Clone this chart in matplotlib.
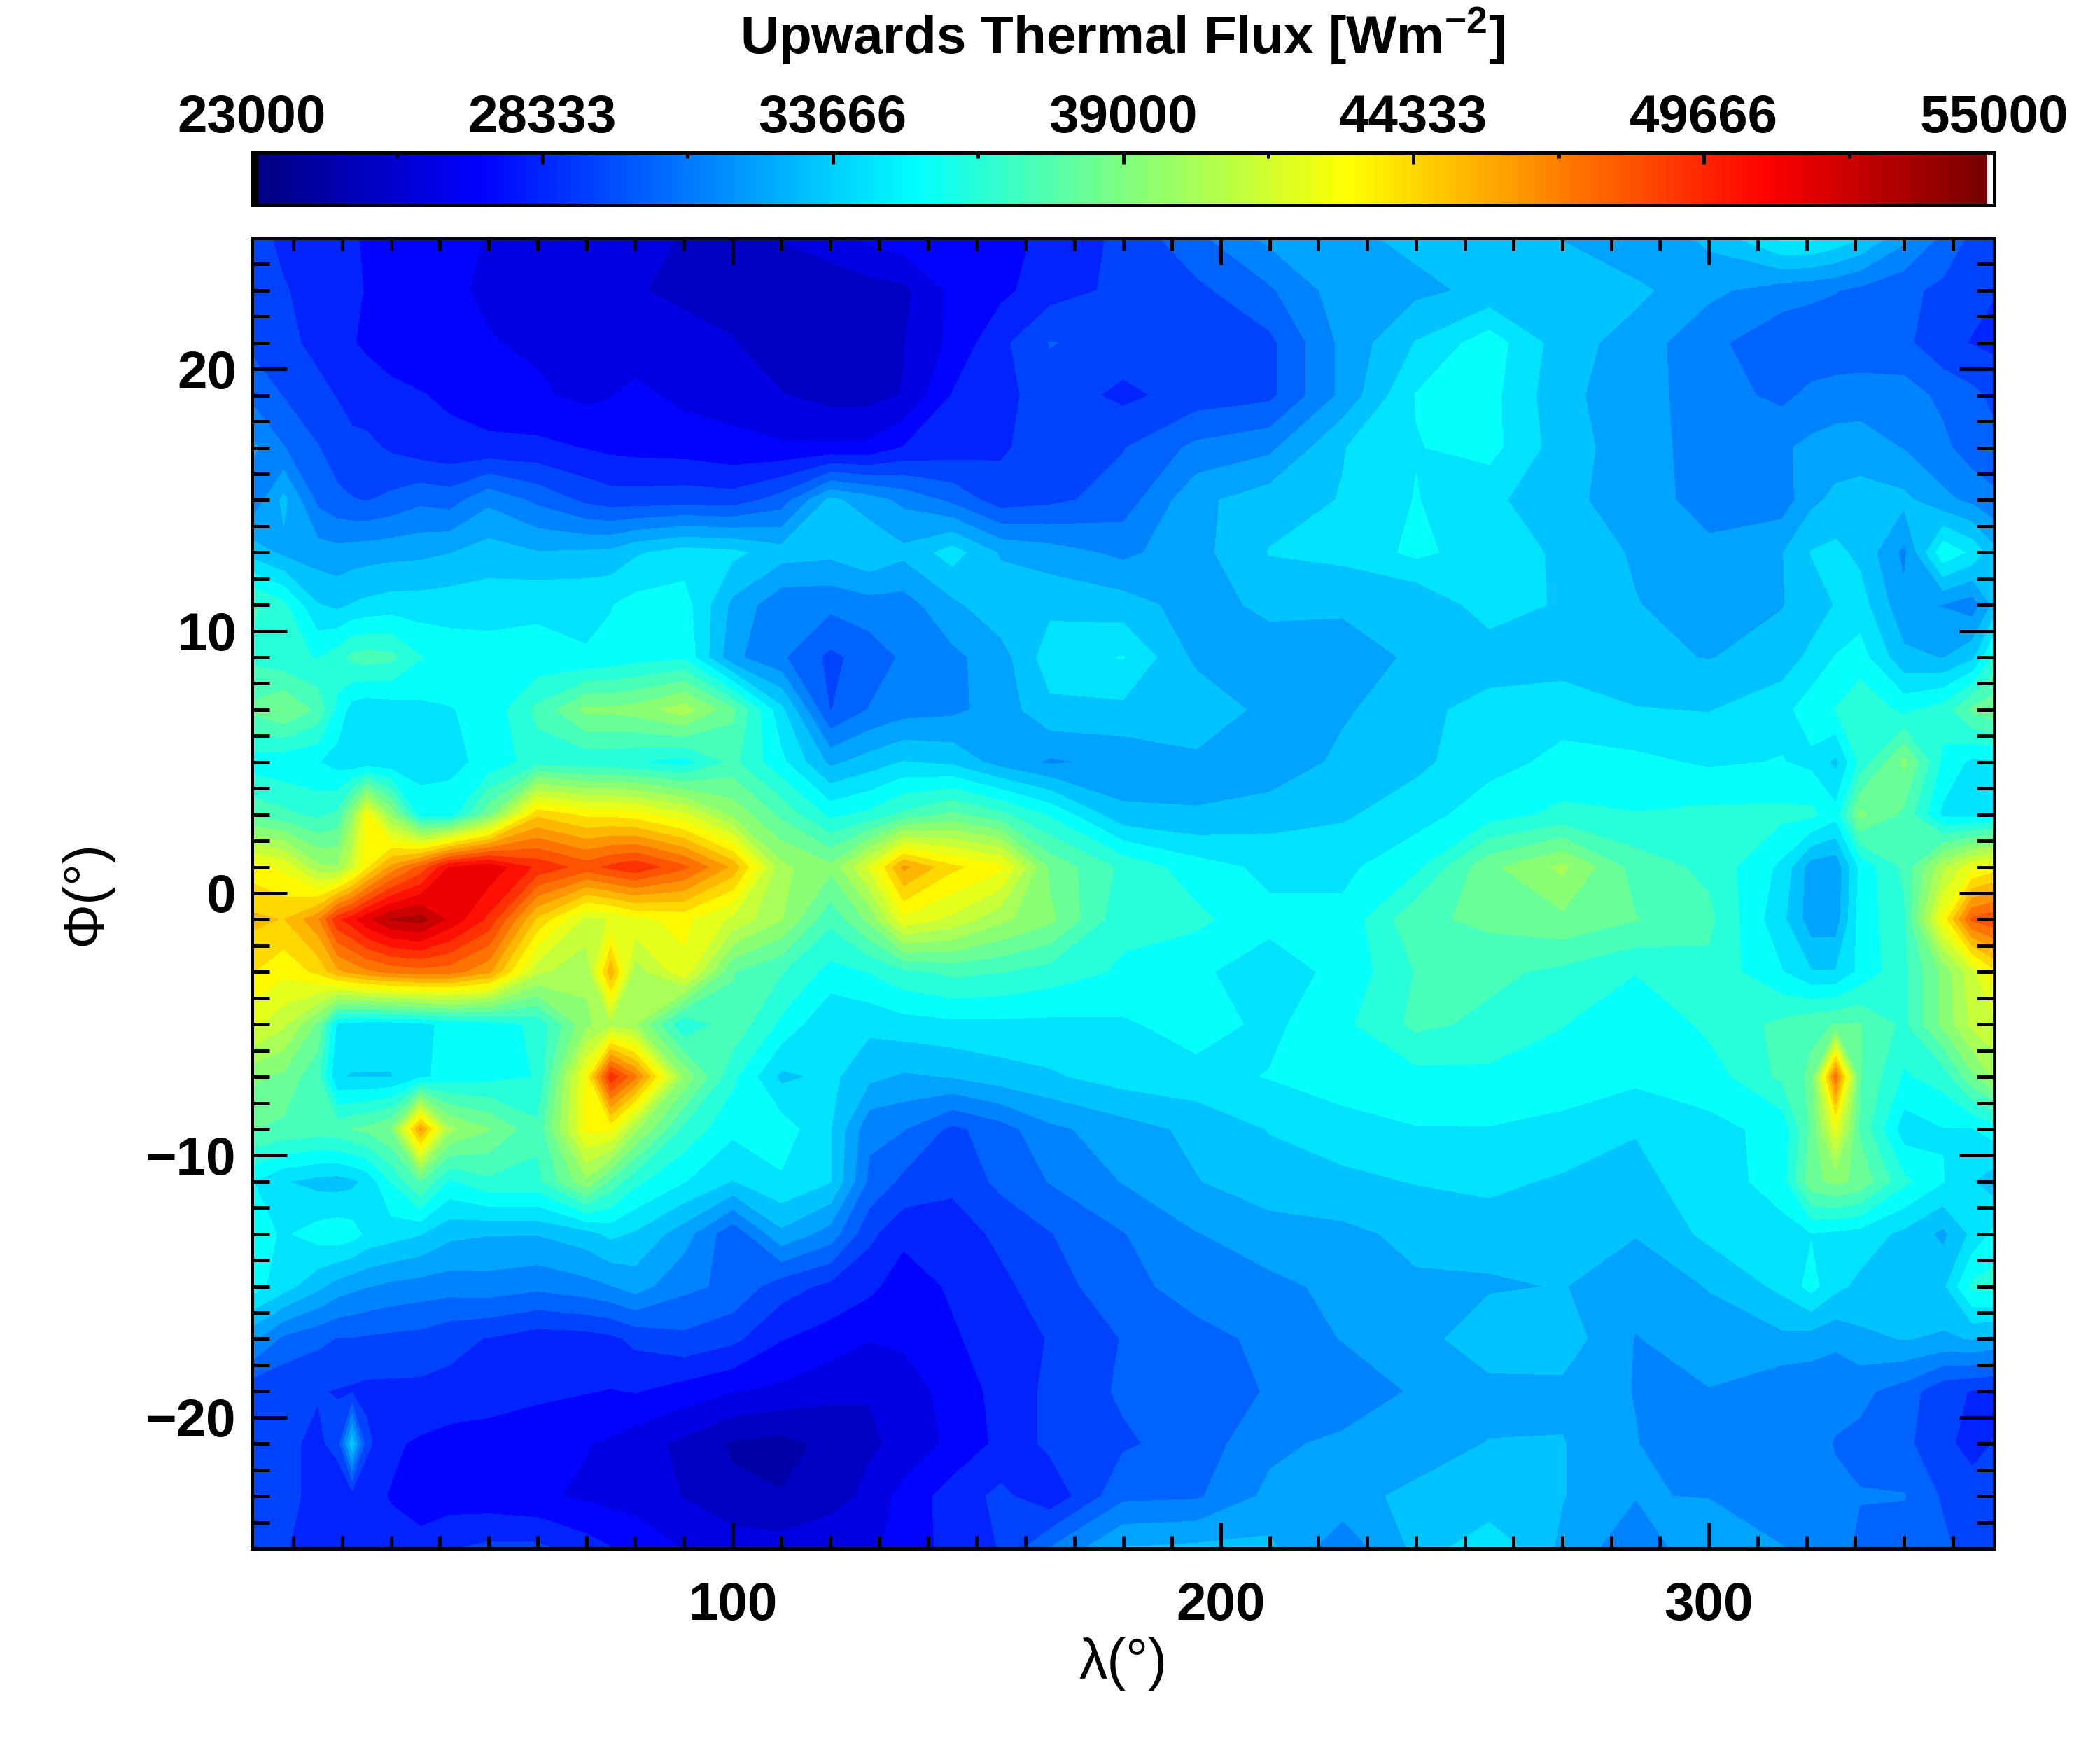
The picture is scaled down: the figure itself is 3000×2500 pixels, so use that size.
import numpy as np
import matplotlib
matplotlib.use('Agg')
import matplotlib.pyplot as plt
from matplotlib.colors import LinearSegmentedColormap, ListedColormap
from matplotlib.ticker import MultipleLocator

plt.rcParams['font.family'] = ['Liberation Sans', 'DejaVu Sans']
plt.rcParams['font.weight'] = 'bold'
plt.rcParams['mathtext.fontset'] = 'custom'
plt.rcParams['mathtext.rm'] = 'Liberation Sans:bold'
plt.rcParams['mathtext.bf'] = 'Liberation Sans:bold'

# Grid, flux in 1000 W/m2
lon = [1.5, 8, 15, 19, 22, 25, 30, 36, 42, 50,
       60, 70, 75, 80, 90, 100, 110, 120, 128, 135,
       145, 155, 165, 180, 195, 210, 225, 240, 255, 270,
       285, 300, 315, 321, 326, 331, 340, 348, 354, 358.5]
lat = [25, 23, 21, 19, 17, 15, 13, 11, 9, 7, 5, 3, 1,
       -1, -3, -5, -7, -9, -11, -13, -15, -17, -19, -21, -23, -25]
flux = [
    [29,28.6,28.3,28,27.8,27.7,27.5,27.3,27,26.7, 26.5,26.3,26.2,26,25.7,25.6,25.8,26.2,27,27.3, 27.2,27.4,28,29,30.5,32,32.5,33,33.2,32.7, 31.8,33,35,35,34.5,33.8,32,30.5,29.5,29],
    [29,28.8,28.5,28.1,27.9,27.7,27.4,27.2,26.9,26.6, 26.3,25.9,26,25.8,25.6,25.4,25.2,25.2,25.3,25.5, 27,27.5,28.3,29,29.5,30.6,32.3,32.5,33,33.5, 33,32,31.2,31,30.8,30.5,30,29.5,29,28.8],
    [29.5,29,28.5,28,27.8,27.6,27.3,27.2,27.1,26.8, 26.6,26.4,26.3,26.2,26,25.8,25.2,25.3,25.5,25.7, 27,28.5,29.8,29.3,29.5,29.5,32,33.8,35.3,33.2, 32.3,31,30.1,30,30,30,30,29,28.7,28.5],
    [30.5,29.7,29,28.7,28.4,28.2,28,27.8,27.6,27.2, 26.9,26.5,26.7,27,26.5,26.4,25.8,25.4,25.4,25.8, 27.8,28.4,29.3,28.5,29.2,29.5,32,34.8,35.1,33, 32.2,31.2,30.5,31,31.2,31.3,31.2,30.5,30,29.5],
    [32,30.8,29.8,29.2,29,29,28.6,28.2,28,28, 28,27.7,27.5,27.4,27.3,27,26.9,26.9,27,27.8, 28.2,28.6,29.3,29.7,31,31.5,33.7,34.7,35.1,33.2, 32.2,31.3,31.6,32,32.2,32.2,31.7,31,30.2,30],
    [31,33,30.5,30,29.8,29.7,30,30.5,30.3,31.5, 30.5,29.5,29.2,29.2,29.3,29.2,30.2,33,32.2,31.5, 30.5,29.2,29.5,30.2,32.5,33.3,33.8,34.8,34,33, 32.3,31.3,31.2,32.5,33,33.2,33,32,31.5,31],
    [33.3,32.5,32.2,32.1,32.2,32.3,32.4,32.5,32.7,33.2, 32.8,32.9,33,33.6,34.2,34,33.2,33,33.6,33, 34.2,32.6,32.2,31.5,32.4,33.8,34,35,34.2,33.6, 32.6,32,32.7,33.8,34,33.5,31.5,35.5,34.5,33],
    [37,36,33.8,33.5,33.8,34,34.2,34.2,34.3,34.3, 34.6,34.6,34.7,35.1,35.2,32.5,31,31,31.3,31.3, 32.5,33.5,33.5,33.2,32.3,33,33,32.8,34.3,33.6, 32.8,32.2,32.7,33.2,33.8,34.2,32,31.7,31.2,33],
    [36.5,36,35.7,36.3,37,37.2,37,35.8,35.3,35.2, 35,34.8,35,35.3,35.6,32,30.9,29.5,30.2,30.9, 31.5,32.3,34.3,34.8,32.5,32.2,32,33,33.1,33.2, 33,32.7,33.2,34,34.8,35.2,33,32.7,33.5,36],
    [38,38.8,37.5,35.5,34.3,34,34.2,34.5,34.7,35, 37,39,39,39.2,40.3,38,34,29.7,30.8,31.3, 31.5,32.2,33.5,33.5,33.5,32.4,32.6,33.4,34.2,34.4, 33.8,33.7,34.4,35.3,35.8,36.5,35.5,36.2,38,38.5],
    [35.2,35,34.8,34.3,34,34,34,34.3,34.5,35, 36.3,36,36,35.8,35.3,37,35,32.5,33.2,33.8, 33.5,32.3,31.6,32,32.5,32,33,33.5,34.4,35, 35,34.6,34.8,34.5,33.5,36,39,35.5,34.5,34.5],
    [37.5,37,36.5,37,39.5,43,39.5,35.3,35.2,38.5, 44.5,43.5,43.5,43.2,42,39.5,37.5,35.5,36,37, 38,37,35.6,33,32.8,33.3,33.6,34.3,35.3,36, 35.8,36,36,36,35.1,39,37.5,34.5,34.3,34.5],
    [43.2,42.5,40,39.8,41.5,43.5,46,48,50.8,51.5, 49.5,48.3,49,49.5,48,45.5,40,39,42,46, 44,43,38.5,36.5,35.2,34.5,34.5,35.5,38.5,40, 37.3,36.5,34.5,32.2,32,35,37,40.5,42.5,43.2],
    [45,44.7,46.5,49.5,50.3,51.5,52.8,53.2,51.5,49.5, 44.5,41.5,41.8,42.5,43,41.5,39.8,37,39,42.5, 41.5,40,39,36,36,35,35,37.5,38,38.5, 37.8,37,34,32.2,32.2,35.2,36.5,43,48,48.5],
    [43.8,43,44,45.5,46,46.5,47,47.3,47.2,46, 41,40,45.5,40.2,42.5,37.8,36.8,35.4,35.8,36.5, 37,36.8,36.3,35.6,34.9,34.3,35,36.8,37,36.5, 35.8,36.5,34.8,33.8,33.8,35,36.5,39,41.5,43.5],
    [42,41,38.5,34.5,34.3,34.2,34.2,34.5,35,35.2, 36,39.5,40.5,39.8,35.8,37.5,35.5,33.8,34,34.3, 34.5,34.5,34.5,34.6,35.2,34.5,35.5,37,36.5,35.8, 34.8,36,37,37.5,37.8,37.8,36.5,39,41,41.5],
    [39,38.5,37,33.8,33.7,33.7,33.7,34.5,35.2,35.4, 35.8,43,49.5,47,39.5,36,33.5,34,33,32.6, 32.8,33.3,33.6,34.2,34.4,34.8,35.3,35.4,35.5,35.2, 35,35.2,37,38,47.5,37.8,35.6,36.2,38.5,40],
    [37.8,37.5,37.3,37.4,37.8,38,38.8,46,40,38.8, 37,43,43,40,36.5,35,35.3,33.8,31,30.8, 29.5,30.3,31.5,32.3,33,33.8,34.3,34.7,34.7,34.5, 33.8,34.5,35,38,42.3,37.5,34.2,34.7,34.7,35.2],
    [34.8,33.8,33.4,33.3,33.5,34,35.8,37.8,35.6,36.5, 36.5,39.5,37.5,36,34.8,33.7,34.6,33.8,30.5,29.5, 29,30,30.8,31.8,32.7,33.3,33.5,33.8,34,33.6, 33.5,34.2,35.2,38.5,39,38.5,36,34.8,33.8,33.2],
    [35.3,34.6,35.2,35.4,35.2,34.5,34.2,33.8,33,32.8, 32.8,33.3,34,33.6,32.2,30,32.5,31.3,29,28, 28.2,29,29.7,30.7,31.7,32.3,32.5,33,33.2,33.2, 32.8,34,34.4,34.7,34.5,34.3,33.5,32.5,34,35],
    [35.2,34.2,33,32.3,32,31.8,31.5,31.3,31.2,31.3, 31,31.4,31.7,32.2,31,30.5,29.2,28.5,28,27.2, 27.9,28.5,29.3,30.4,31.2,31.5,32,32.6,32.6,32.8, 32.1,32.8,34,35.1,34,33.5,32.8,33.5,36,36.2],
    [32,30.5,30,29.7,29.7,29.6,29.5,29.4,29,28.7, 28.2,28.3,28.5,29,29.5,29,27.8,27.3,26.8,27, 27.6,28.3,28.8,29.8,30.4,31,31.8,32.2,33.6,33.3, 31.7,32.3,32.5,32.3,32,32.5,32.8,32.6,32.8,32.5],
    [29,28.9,28.8,28.7,28.6,28.5,28.5,28.5,28.5,28.4, 28,27.8,27.7,27.8,27.3,26.8,26.5,26,25.8,26, 27.3,28,29,29.9,30.4,30.8,31,31.9,32.3,32.5, 31.7,31.7,31,31,31,31,30.3,29,28.7,28.6],
    [29.3,28.9,28.6,29,33.5,29,27.9,27.6,27.3,27.1, 27,26.8,26.6,26.2,25.5,24.6,24.4,25,25.6,26, 27,28,29,29.6,30.2,31.5,32,32.2,32.8,32.8, 31.8,30.8,31.4,31,30.7,30.5,30,29,28.4,28.8],
    [29.3,29,28.5,28.2,28.2,28,27.7,27.4,27.2,27.1, 26.9,26.6,26.4,26.4,25.7,25,24.8,25.3,26,27.1, 28.2,29,28,30.5,30.6,32,32.4,33,32.8,32.8, 31.8,31.7,31,31,30.9,30.8,30.8,29.6,29.2,29],
    [29,28.8,28.5,28.5,28.4,28.3,28,28,28.7,29, 29,28.2,27.8,27.3,26.7,26.3,26.2,26.5,26.6,27, 28.2,28.8,30.8,32.8,33,33,31,33,34.7,32.5, 31,32.6,31.8,31.5,31.2,30.5,30.2,30,29.2,29],
]
cbar_ticks = [23000, 28333, 33666, 39000, 44333, 49666, 55000]
cbar_minor = [25666, 31000, 36333, 41666, 47000, 52333]

vmin, vmax = 23000, 55000
z = np.array(flux) * 1000.0

# blue-red table, first entry black and last white as in the IDL one
jet = LinearSegmentedColormap.from_list('bluered', [
    (0.0, (0, 0, 0.5)), (0.13, (0, 0, 1)), (0.38, (0, 1, 1)),
    (0.5, (0.5, 1, 0.5)), (0.63, (1, 1, 0)), (0.87, (1, 0, 0)), (1.0, (0.45, 0, 0))])
table = jet(np.linspace(0, 1, 256))
table[0] = (0, 0, 0, 1)
table[-1] = (1, 1, 1, 1)
cmap = ListedColormap(table)

fig = plt.figure(figsize=(30, 25), dpi=100)
ax = fig.add_axes([360/3000, 1-2212/2500, 2489/3000, 1872/2500])
cax = fig.add_axes([360/3000, 1-293/2500, 2489/3000, 75/2500])

# levels shifted a bit so each band shows the colour of its value
levels = np.arange(vmin-250, vmax+1000, 1000)
ax.contourf(lon, lat, z, levels=levels, cmap=cmap, vmin=vmin, vmax=vmax)
ax.set_xlim(1.5, 358.5)
ax.set_ylim(-25, 25)

ax.xaxis.set_major_locator(MultipleLocator(100))
ax.xaxis.set_minor_locator(MultipleLocator(10))
ax.yaxis.set_major_locator(MultipleLocator(10))
ax.yaxis.set_minor_locator(MultipleLocator(1))
ax.tick_params(axis='x', which='major', direction='in', top=True, length=27, width=3.6, labelsize=55, pad=34)
ax.tick_params(axis='x', which='minor', direction='in', top=True, length=13, width=3.6)
ax.tick_params(axis='y', which='major', direction='in', right=True, length=36, width=3.6, labelsize=55, pad=16)
ax.tick_params(axis='y', which='minor', direction='in', right=True, length=18, width=3.6)
for s in ax.spines.values():
    s.set_linewidth(3.6)
ax.set_xlabel('λ(°)', fontsize=58, labelpad=6)
ax.set_ylabel('Φ(°)', fontsize=58, labelpad=34)

# colour bar
edges = np.linspace(vmin, vmax, 257)
cax.pcolormesh(edges, [0, 1], np.linspace(vmin, vmax, 256).reshape(1, -1), cmap=cmap, vmin=vmin, vmax=vmax)
cax.set_xlim(vmin, vmax)
cax.set_ylim(0, 1)
cax.set_yticks([])
cax.xaxis.tick_top()
cax.set_xticks(cbar_ticks)
cax.set_xticklabels([str(t) for t in cbar_ticks])
cax.set_xticks(cbar_minor, minor=True)
cax.tick_params(axis='x', which='major', direction='in', length=11.5, width=3.6, labelsize=55, pad=9)
cax.tick_params(axis='x', which='minor', direction='in', length=6, width=3.6)
for s in cax.spines.values():
    s.set_linewidth(3.6)

fig.text(1603/3000, 1-52/2500, r'Upwards Thermal Flux [Wm$^{\mathbf{-2}}$]', fontsize=55, ha='center', va='center')

fig.savefig('out.png', dpi=100)
plt.close(fig)
